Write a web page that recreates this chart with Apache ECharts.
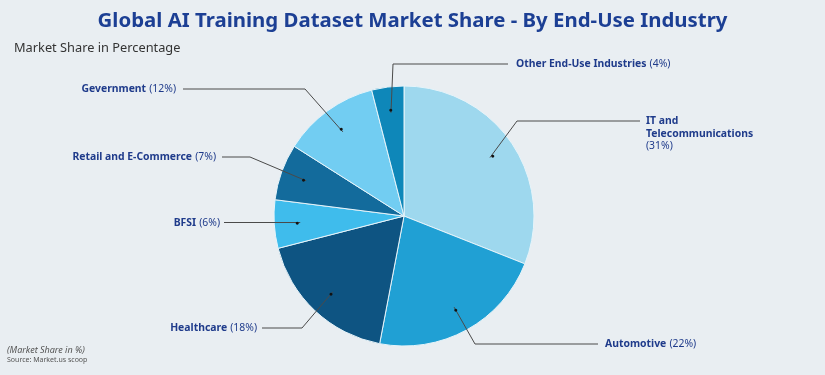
<!DOCTYPE html>
<html>
<head>
<meta charset="utf-8">
<script src="https://cdn.jsdelivr.net/npm/echarts@6/dist/echarts.min.js"></script>
<style>
  html, body { margin: 0; padding: 0; background: #e9eef2; }
  #main { width: 825px; height: 375px; }
</style>
</head>
<body>
<div id="main"></div>
<script>
// data (clockwise from 12 o'clock)
const categories = ['IT and\nTelecommunications', 'Automotive', 'Healthcare', 'BFSI', 'Retail and E-Commerce', 'Gevernment', 'Other End-Use Industries'];
const shares = [31, 22, 18, 6, 7, 12, 4];
const sliceColors = ['#9ed8ee', '#20a0d4', '#0e5482', '#3fbcec', '#136b9c', '#72cdf2', '#0e87b9'];

// where each callout goes (elbow of the leader line, end of the line, label anchor)
const labelSpots = [
  { elbow: [517, 121], end: [640, 121], x: 646, y: 134, align: 'left' },
  { elbow: [475, 344], end: [598, 344], x: 605, y: 344, align: 'left' },
  { elbow: [302, 328], end: [262, 328], x: 257, y: 328, align: 'right' },
  { elbow: [260, 222.5], end: [224, 222.5], x: 220, y: 223, align: 'right' },
  { elbow: [250, 157], end: [222, 157], x: 216, y: 157, align: 'right' },
  { elbow: [305, 89], end: [183, 89], x: 176, y: 89, align: 'right' },
  { elbow: [393, 64], end: [508, 64], x: 516, y: 64, align: 'left' },
];

const navy = '#1f3b8b';
const center = [404, 216];
const dotRadius = 104;
const font = 'Noto Sans';

// leader line start = middle of each slice at dotRadius
const total = shares.reduce((a, b) => a + b, 0);
function sliceAnchor(idx) {
  let before = 0;
  for (let i = 0; i < idx; i++) before += shares[i];
  const ang = (90 - (before + shares[idx] / 2) / total * 360) * Math.PI / 180;
  return [center[0] + dotRadius * Math.cos(ang), center[1] - dotRadius * Math.sin(ang)];
}

const chart = echarts.init(document.getElementById('main'));

const pieData = shares.map((v, i) => ({ name: categories[i], value: v }));

chart.setOption({
  backgroundColor: '#e9eef2',
  title: [
    {
      text: 'Global AI Training Dataset Market Share - By End-Use Industry',
      left: 'center',
      top: 6,
      textStyle: { fontFamily: font, fontSize: 20.4, fontWeight: 'bold', color: '#1c3f94' },
    },
    {
      text: 'Market Share in Percentage',
      left: 9,
      top: 37,
      textStyle: { fontFamily: font, fontSize: 12.8, fontWeight: 'normal', color: '#333' },
    },
    {
      text: '(Market Share in %)',
      left: 2,
      top: 341,
      textStyle: { fontFamily: font, fontSize: 9, fontStyle: 'italic', fontWeight: 'normal', color: '#555' },
    },
    {
      text: 'Source: Market.us scoop',
      left: 2,
      top: 351,
      textStyle: { fontFamily: font, fontSize: 7, fontWeight: 'normal', color: '#555' },
    },
  ],
  series: [
    {
      // the visible pie
      type: 'pie',
      z: 1,
      center,
      radius: 130,
      startAngle: 90,
      silent: true,
      label: { show: false },
      labelLine: { show: false },
      itemStyle: { borderColor: '#e6f4fa', borderWidth: 1 },
      data: shares.map((v, i) => ({ name: categories[i], value: v, itemStyle: { color: sliceColors[i] } })),
    },
    {
      // dots at the start of each leader line
      type: 'pie',
      z: 4,
      center,
      radius: [dotRadius * 2 - 130, 130],
      startAngle: 90,
      silent: true,
      itemStyle: { color: 'transparent' },
      label: { show: true, position: 'inside', formatter: '●', color: '#111', fontSize: 7 },
      labelLine: { show: false },
      data: pieData,
    },
    {
      // callouts
      type: 'pie',
      z: 3,
      center,
      radius: dotRadius,
      startAngle: 90,
      silent: true,
      avoidLabelOverlap: false,
      itemStyle: { color: 'transparent' },
      label: {
        show: true,
        position: 'outside',
        fontFamily: font,
        formatter: (p) => {
          const lines = p.name.split('\n').map(s => '{b|' + s + '}');
          const pct = '{p|(' + p.value + '%)}';
          return lines.length > 1 ? lines.join('\n') + '\n' + pct : lines[0] + ' ' + pct;
        },
        rich: {
          b: { fontFamily: font, fontSize: 10.4, fontWeight: 'bold', color: navy, lineHeight: 12.5 },
          p: { fontFamily: font, fontSize: 10.4, fontWeight: 'normal', color: navy, lineHeight: 12.5 },
        },
      },
      labelLine: { show: true, lineStyle: { color: '#4a4a4a', width: 1 } },
      labelLayout: (params) => {
        const spot = labelSpots[params.dataIndex];
        return {
          x: spot.x,
          y: spot.y,
          align: spot.align,
          verticalAlign: 'middle',
          labelLinePoints: [sliceAnchor(params.dataIndex), spot.elbow, spot.end],
        };
      },
      data: pieData,
    },
  ],
});
</script>
</body>
</html>
